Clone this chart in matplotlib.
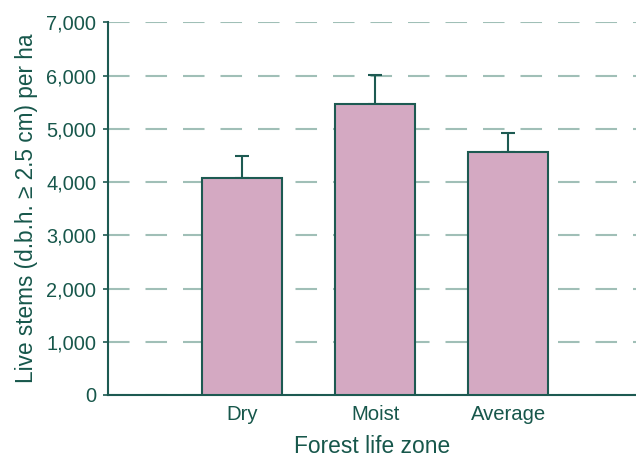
import matplotlib
matplotlib.use("Agg")
import matplotlib.pyplot as plt
from matplotlib.ticker import FuncFormatter

zones = ["Dry", "Moist", "Average"]
stems = [4075, 5465, 4565]
stems_se = [425, 555, 355]
yticks = [0, 1000, 2000, 3000, 4000, 5000, 6000, 7000]

TEXT = "#17574b"
EDGE = "#1d5a52"
GRID = "#a0bfb7"
FILL = "#d4a9c2"

plt.rcParams["font.family"] = ["Liberation Sans", "DejaVu Sans"]
plt.rcParams["lines.scale_dashes"] = False

fig = plt.figure(figsize=(6.36, 4.58), dpi=100)
ax = fig.add_axes([0.1698, 0.1376, 0.8302, 0.8133])

x = list(range(len(zones)))
ax.bar(x, stems, width=0.6, color=FILL, edgecolor=EDGE, linewidth=1.5, zorder=3)
ax.errorbar(x, stems, yerr=[[0] * len(stems), stems_se], fmt="none",
            ecolor=EDGE, elinewidth=1.5, capsize=5, capthick=1.5, zorder=2)

ax.set_xlim(-1.007, 2.96)
ax.set_ylim(0, 7000)
ax.set_yticks(yticks)
ax.yaxis.set_major_formatter(FuncFormatter(lambda v, p: f"{int(v):,}"))
ax.set_xticks(x)
ax.set_xticklabels(zones)

ax.grid(axis="y", color=GRID, linewidth=1.5, linestyle=(0, (15.5, 11.5)), zorder=1)
ax.set_axisbelow(True)

for s in ["top", "right"]:
    ax.spines[s].set_visible(False)
for s in ["left", "bottom"]:
    ax.spines[s].set_color(EDGE)
    ax.spines[s].set_linewidth(1.5)

ax.tick_params(axis="y", direction="out", length=3.5, width=1.2, color=EDGE,
               labelcolor=TEXT, labelsize=14.4, pad=5)
ax.tick_params(axis="x", length=0, labelcolor=TEXT, labelsize=14.6, pad=7)

ax.set_xlabel("Forest life zone", color=TEXT, fontsize=16.4, labelpad=8)
ax.set_ylabel("Live stems (d.b.h. \u2265 2.5 cm) per ha", color=TEXT, fontsize=16.3, labelpad=6)

fig.savefig("out.png", dpi=100)
